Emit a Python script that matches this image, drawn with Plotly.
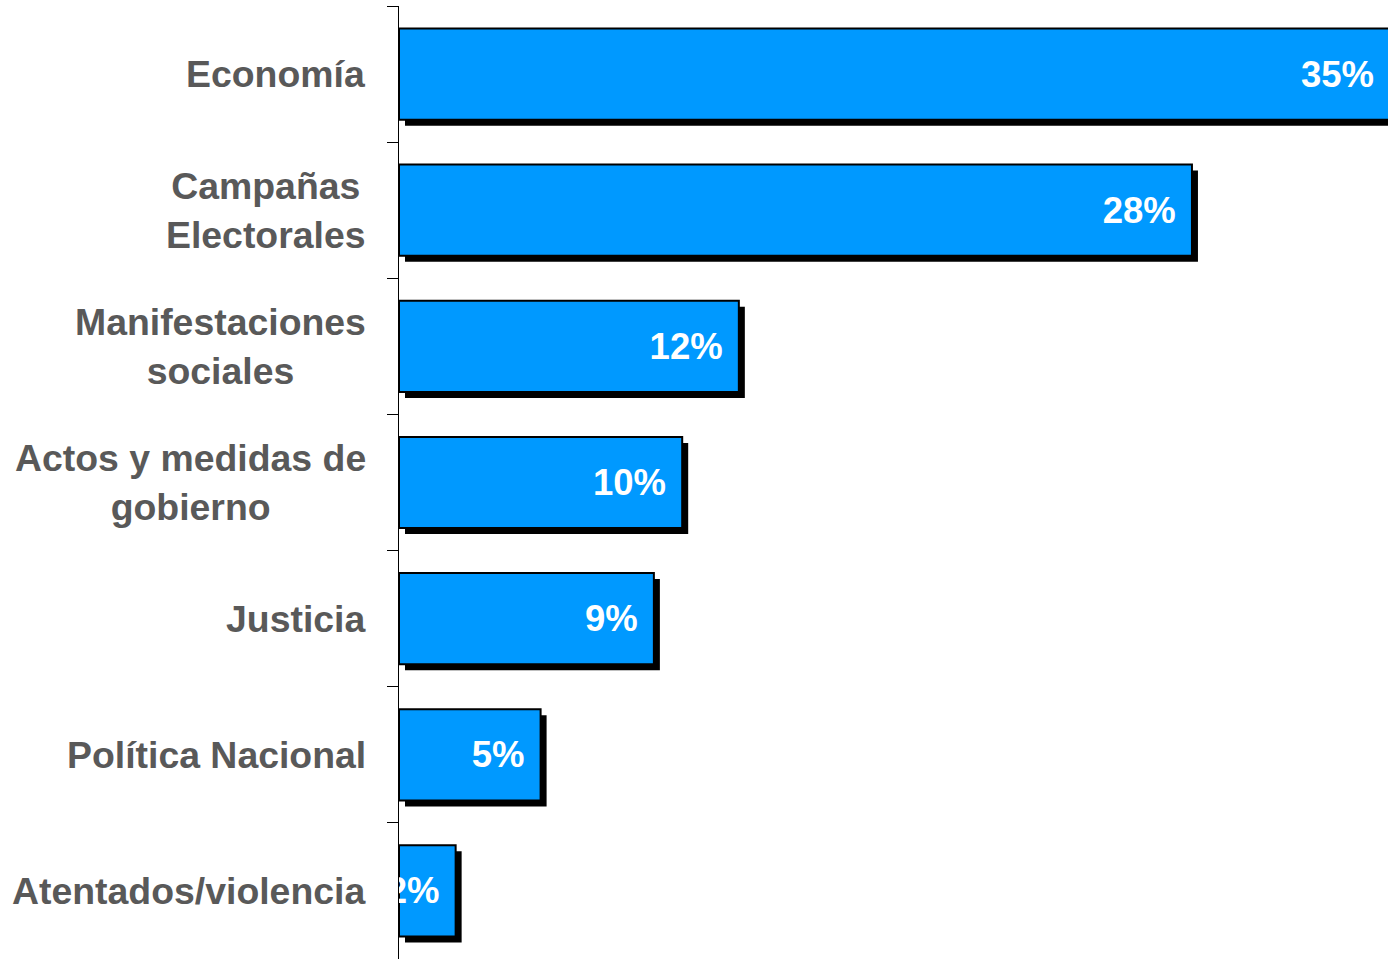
import plotly.graph_objects as go

categories = [
    "Economía",
    "Campañas<br>Electorales",
    "Manifestaciones<br>sociales",
    "Actos y medidas de<br>gobierno",
    "Justicia",
    "Política Nacional",
    "Atentados/violencia",
]
values = [35, 28, 12, 10, 9, 5, 2]
value_labels = ["35%", "28%", "12%", "10%", "9%", "5%", "2%"]

FONT = "Liberation Sans, Arial, Helvetica, sans-serif"
BLUE = "#0099FF"
LABEL_GRAY = "#595959"

FIG_W = 1388
FIG_H = 959
LEFT = 399
TOP = 6

px_per_unit = 28.32                 # horizontal scale
band_px = (FIG_H - TOP) / 7         # category band height
shadow_dx = 6 / px_per_unit         # shadow offset in data units
shadow_dy = 6 / band_px
bar_w = 0.67

fig = go.Figure()

# shadow
fig.add_trace(go.Bar(
    y=categories, x=values, base=shadow_dx, orientation="h",
    width=bar_w, offset=-bar_w / 2 + shadow_dy,
    marker=dict(color="black", line=dict(width=0)),
    hoverinfo="skip", showlegend=False,
))

# main bars
fig.add_trace(go.Bar(
    y=categories, x=values, orientation="h",
    width=bar_w, offset=-bar_w / 2,
    marker=dict(color=BLUE, line=dict(color="black", width=2)),
    text=value_labels, texttemplate="%{text}\u00a0\u200a",
    textposition="inside", insidetextanchor="end",
    constraintext="none", textangle=0, cliponaxis=True,
    textfont=dict(family=FONT, size=36.5, color="white", weight="bold"),
    showlegend=False,
))

for cat in categories:
    fig.add_annotation(
        x=0, xref="paper", y=cat, yref="y",
        text=cat, showarrow=False,
        xanchor="right", yanchor="middle", align="center", xshift=-31,
        font=dict(family=FONT, size=37.4, color=LABEL_GRAY, weight="bold"),
    )

plot_w = FIG_W - LEFT
fig.update_layout(
    width=FIG_W, height=FIG_H,
    margin=dict(l=LEFT, r=0, t=TOP, b=0, pad=0),
    barmode="overlay",
    plot_bgcolor="white", paper_bgcolor="white",
    xaxis=dict(range=[0, plot_w / px_per_unit], showgrid=False, zeroline=False,
               showticklabels=False, ticks="", showline=False),
    yaxis=dict(type="category", categoryorder="array", categoryarray=categories,
               autorange="reversed", showgrid=False, zeroline=False,
               showticklabels=False, ticks="outside", tickson="boundaries",
               ticklen=11, tickcolor="black", tickwidth=1,
               showline=True, linecolor="black", linewidth=1),
)

fig.write_html(
    "out.html",
    config={"displayModeBar": False},
    post_script="document.body.style.margin='0';document.body.style.overflow='hidden';",
)
